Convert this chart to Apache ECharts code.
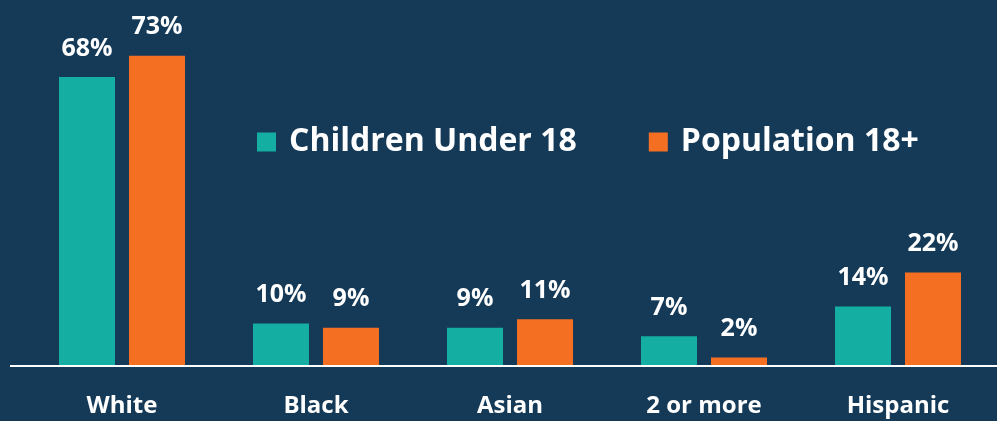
<!DOCTYPE html>
<html>
<head>
<meta charset="utf-8">
<script src="https://cdn.jsdelivr.net/npm/echarts@6/dist/echarts.min.js"></script>
<style>html,body{margin:0;padding:0;background:#153a58;}#c{width:997px;height:421px;}</style>
</head>
<body>
<div id="c"></div>
<script>
const categories = ['White', 'Black', 'Asian', '2 or more', 'Hispanic'];
const seriesNames = ['Children Under 18', 'Population 18+'];
const childrenValues = [68, 10, 9, 7, 14];
const adultValues = [73, 9, 11, 2, 22];

const FONT = '"Open Sans", sans-serif';
const chart = echarts.init(document.getElementById('c'), null, {renderer: 'canvas'});
const labelStyle = {
  show: true, position: 'top', distance: 16,
  color: '#ffffff', fontFamily: FONT, fontWeight: 'bold', fontSize: 25,
  formatter: p => p.value + '%'
};
chart.setOption({
  backgroundColor: '#153a58',
  animation: false,
  grid: {left: 25, right: 2, top: 26, bottom: 55},
  legend: {
    left: 252, top: 121,
    icon: 'rect', itemWidth: 19, itemHeight: 19, itemGap: 72,
    textStyle: {color: '#ffffff', fontFamily: FONT, fontWeight: 'bold', fontSize: 32, padding: [0, 0, 0, 8]},
    data: seriesNames
  },
  xAxis: {
    type: 'category', data: categories,
    axisLine: {show: false}, axisTick: {show: false},
    axisLabel: {color: '#ffffff', fontFamily: FONT, fontWeight: 'bold', fontSize: 24, margin: 28}
  },
  yAxis: {type: 'value', min: 0, max: 80, show: false, splitLine: {show: false}},
  graphic: [{
    type: 'line', z: 10,
    shape: {x1: 10, y1: 366, x2: 997, y2: 366},
    style: {stroke: '#ffffff', lineWidth: 2}
  }],
  series: [
    {name: seriesNames[0], type: 'bar', data: childrenValues, barWidth: 56, barGap: '25%',
     itemStyle: {color: '#15aea3'}, label: labelStyle},
    {name: seriesNames[1], type: 'bar', data: adultValues, barWidth: 56,
     itemStyle: {color: '#f46f22'}, label: labelStyle}
  ]
});
</script>
</body>
</html>
